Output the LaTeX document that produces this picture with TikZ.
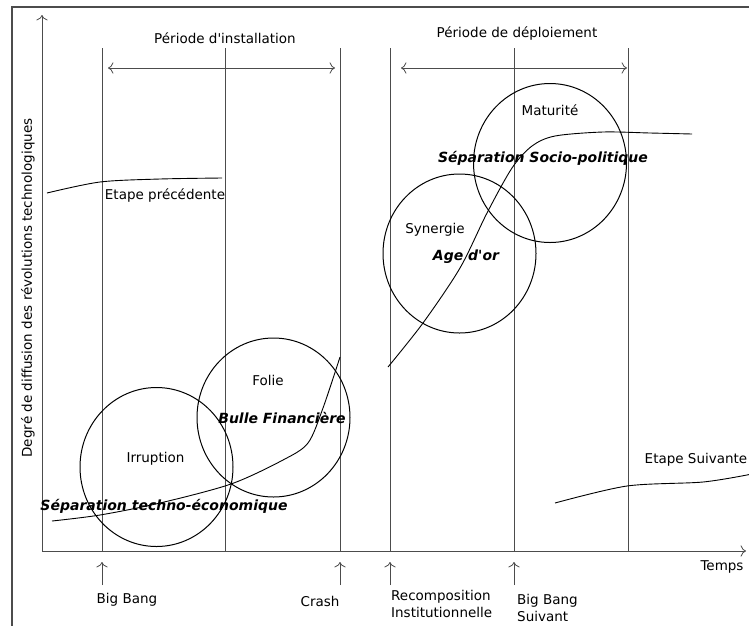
\documentclass[tikz,border=0pt]{standalone}
\usepackage{fontspec}
\setmainfont{DejaVu Sans}
\usetikzlibrary{positioning, shapes, arrows.meta}

\begin{document}
\begin{tikzpicture}[x = 1pt, y = -1pt, >={To[scale = 1.6]}, font = \fontsize{13.5}{17}\selectfont, phase/.style = {draw, ellipse, minimum width = 153pt, minimum height = 159pt, inner sep = 0pt, line width = 1pt}, key/.style = {font = \fontsize{14}{17}\selectfont\bfseries\itshape}, grid/.style = {draw = black!70, line width = 0.8pt}, curve/.style = {draw, line width = 0.9pt}]
  \useasboundingbox (0,0) rectangle (749,625);
  \clip (0,0) rectangle (749,625);
  \draw [black!70, line width = 1.5pt] (760,7) -- (12,7) -- (12,640);

  % axes
  \coordinate (o) at (42,551);
  \coordinate (ytip) at (42,15);
  \coordinate (xtip) at (746,551);
  \draw [->, grid] (o) to (ytip);
  \draw [->, grid] (o) to (xtip);
  \node (temps) at (722,567) {Temps};
  \node [rotate = 90] (ylabel) at (28,288) {Degré de diffusion des révolutions technologiques};

  % time marks
  \coordinate (top) at (0,48);
  \coordinate (bigbang) at (102,551);
  \coordinate (mid_install) at (225,551);
  \coordinate (crash) at (340,551);
  \coordinate (recomp) at (390,551);
  \coordinate (bigbang_next) at (514,551);
  \coordinate (end_deploy) at (628,551);
  \draw [grid] (bigbang) to (bigbang |- top);
  \draw [grid] (mid_install) to (mid_install |- top);
  \draw [grid] (crash) to (crash |- top);
  \draw [grid] (recomp) to (recomp |- top);
  \draw [grid] (bigbang_next) to (bigbang_next |- top);
  \draw [grid] (end_deploy) to (end_deploy |- top);

  % periods
  \node (installation) at (225,38) {Période d\textquotesingle installation};
  \node (deploiement) at (517,33) {Période de déploiement};
  \coordinate (inst_a) at (108,68);
  \coordinate (inst_b) at (335,68);
  \coordinate (depl_a) at (401,68);
  \coordinate (depl_b) at (627,68);
  \draw [<->, grid] (inst_a) to (inst_b);
  \draw [<->, grid] (depl_a) to (depl_b);

  % events below the axis
  \node (bigbang_text) at (127,600) {Big Bang};
  \node (crash_text) at (320,601) {Crash};
  \node [anchor = west, align = left, inner sep = 2pt] (recomp_text) at (389,604) {Recomposition\\Institutionnelle};
  \node [anchor = west, align = left, inner sep = 2pt] (bigbang_next_text) at (515,608) {Big Bang\\Suivant};
  \draw [->, grid] ([yshift = -34pt] bigbang) to ([yshift = -11pt] bigbang);
  \draw [->, grid] ([yshift = -34pt] crash) to ([yshift = -11pt] crash);
  \draw [->, grid] ([yshift = -34pt] recomp) to ([yshift = -11pt] recomp);
  \draw [->, grid] ([yshift = -34pt] bigbang_next) to ([yshift = -11pt] bigbang_next);

  % phases
  \node [phase] (irruption) at (156.5,467) {};
  \node [phase] (folie) at (273.5,417.5) {};
  \node [phase] (synergie) at (459.5,253.5) {};
  \node [phase] (maturite) at (550,163) {};
  \node (irruption_text) at (155.5,459) {Irruption};
  \node (folie_text) at (268,380) {Folie};
  \node (synergie_text) at (435,230) {Synergie};
  \node (maturite_text) at (550,110) {Maturité};
  \node [key] (bulle) at (282,418) {Bulle Financière};
  \node [key] (techno) at (164,506) {Séparation techno-économique};
  \node [key] (age) at (466,257) {Age d\textquotesingle or};
  \node [key] (socio) at (543,158) {Séparation Socio-politique};

  % diffusion curves
  \draw [curve] plot [smooth] coordinates {(47,193) (100,182) (160,179) (222,178)};
  \draw [curve] plot [smooth] coordinates {(52,521) (100,515) (160,503) (231,484) (283,460) (308,443) (323,408) (340,357)};
  \draw [curve] plot [smooth] coordinates {(388,367) (423,323) (460,268) (487,213) (512,168) (532,146) (555,136) (603,132) (650,133) (692,134)};
  \draw [curve] plot [smooth] coordinates {(555,503) (627,486) (703,482) (752,474)};
  \node (precedente) at (165,195) {Etape précédente};
  \node (suivante) at (696,460) {Etape Suivante};
\end{tikzpicture}
\end{document}
